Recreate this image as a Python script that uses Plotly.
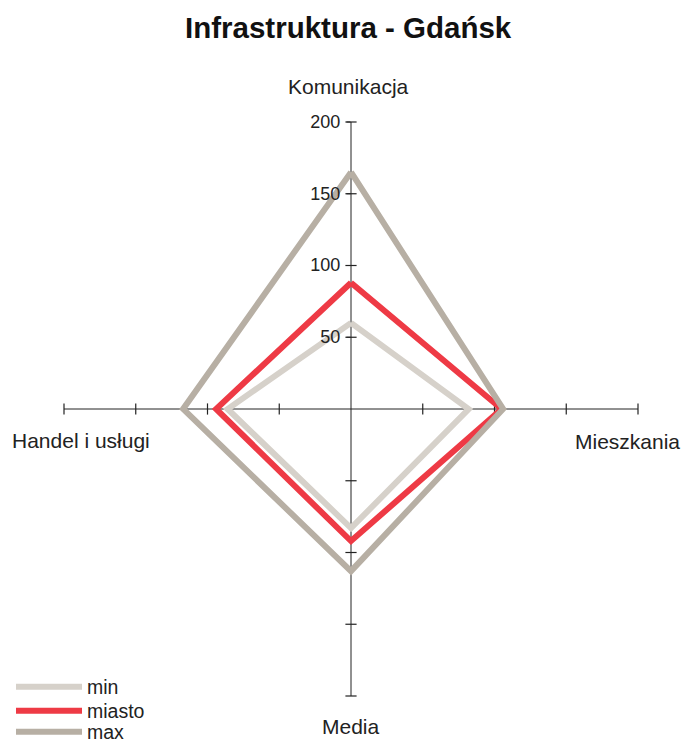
import plotly.graph_objects as go

categories = ["Komunikacja", "Mieszkania", "Media", "Handel i usługi"]
series_names = ["min", "miasto", "max"]
min_vals = [60, 82, 83, 86]
miasto_vals = [88, 105, 92, 94]
max_vals = [165, 106, 113, 117]
radial_ticks = [50, 100, 150, 200]
colors = {"min": "#d6d1ca", "miasto": "#ee3a45", "max": "#b7afa4"}

FONT = "Liberation Sans, Arial, Helvetica, sans-serif"

fig = go.Figure()

# small crossing tick marks on every axis
tick_symbols = ["line-ew", "line-ns", "line-ew", "line-ns"]
for cat, sym in zip(categories, tick_symbols):
    fig.add_trace(go.Scatterpolar(
        r=radial_ticks, theta=[cat] * len(radial_ticks), mode="markers",
        marker=dict(symbol=sym, size=8, line=dict(color="#222222", width=1.2)),
        showlegend=False, hoverinfo="skip"))

legend_ids = ["legend", "legend2", "legend3"]
legend_y = [687, 711, 732]
for name, vals, lid in zip(series_names, [min_vals, miasto_vals, max_vals], legend_ids):
    fig.add_trace(go.Scatterpolar(
        r=vals + [vals[0]], theta=categories + [categories[0]],
        mode="lines", name=name, legend=lid,
        line=dict(color=colors[name], width=6)))

legend_style = dict(x=11 / 684, xanchor="left", yanchor="middle",
                    font=dict(size=19.5, color="#222222"), itemwidth=66,
                    bgcolor="rgba(0,0,0,0)")
legends = {lid: dict(y=1 - ly / 745, **legend_style) for lid, ly in zip(legend_ids, legend_y)}

fig.update_layout(
    width=684, height=745,
    margin=dict(l=0, r=0, t=0, b=0, autoexpand=False),
    paper_bgcolor="white",
    font=dict(family=FONT, color="#222222"),
    title=dict(text="<b>Infrastruktura - Gdańsk</b>", x=0.509, xanchor="center",
               y=1 - 28 / 745, yanchor="middle", font=dict(size=29.5, color="#111111")),
    polar=dict(
        domain=dict(x=[64 / 684, 638 / 684], y=[49 / 745, 623 / 745]),
        bgcolor="white",
        radialaxis=dict(range=[0, 200], tickvals=radial_ticks, angle=90,
                        tickangle=90,
                        showline=False, showgrid=False,
                        ticks="outside", ticklen=4, tickwidth=1.2, tickcolor="#222222",
                        side="counterclockwise",
                        tickfont=dict(size=18, color="#222222")),
        angularaxis=dict(type="category", rotation=90, direction="clockwise",
                         showline=False, showgrid=True, gridcolor="#222222",
                         gridwidth=1.2, showticklabels=False, ticks=""),
    ),
    showlegend=True,
    **legends,
)

label_pos = {
    "Komunikacja": (348, 86, "center"),
    "Mieszkania": (682, 441, "right"),
    "Media": (351, 726, "center"),
    "Handel i usługi": (10, 440, "left"),
}
for cat in categories:
    x, y, anc = label_pos[cat]
    fig.add_annotation(text=cat, x=x / 684, y=1 - y / 745, xref="paper", yref="paper",
                       showarrow=False, xanchor=anc, yanchor="middle",
                       font=dict(size=21, color="#222222"))

fig.write_html("out.html", config={"displayModeBar": False},
               post_script="document.body.style.margin='0';document.body.style.overflow='hidden';")
